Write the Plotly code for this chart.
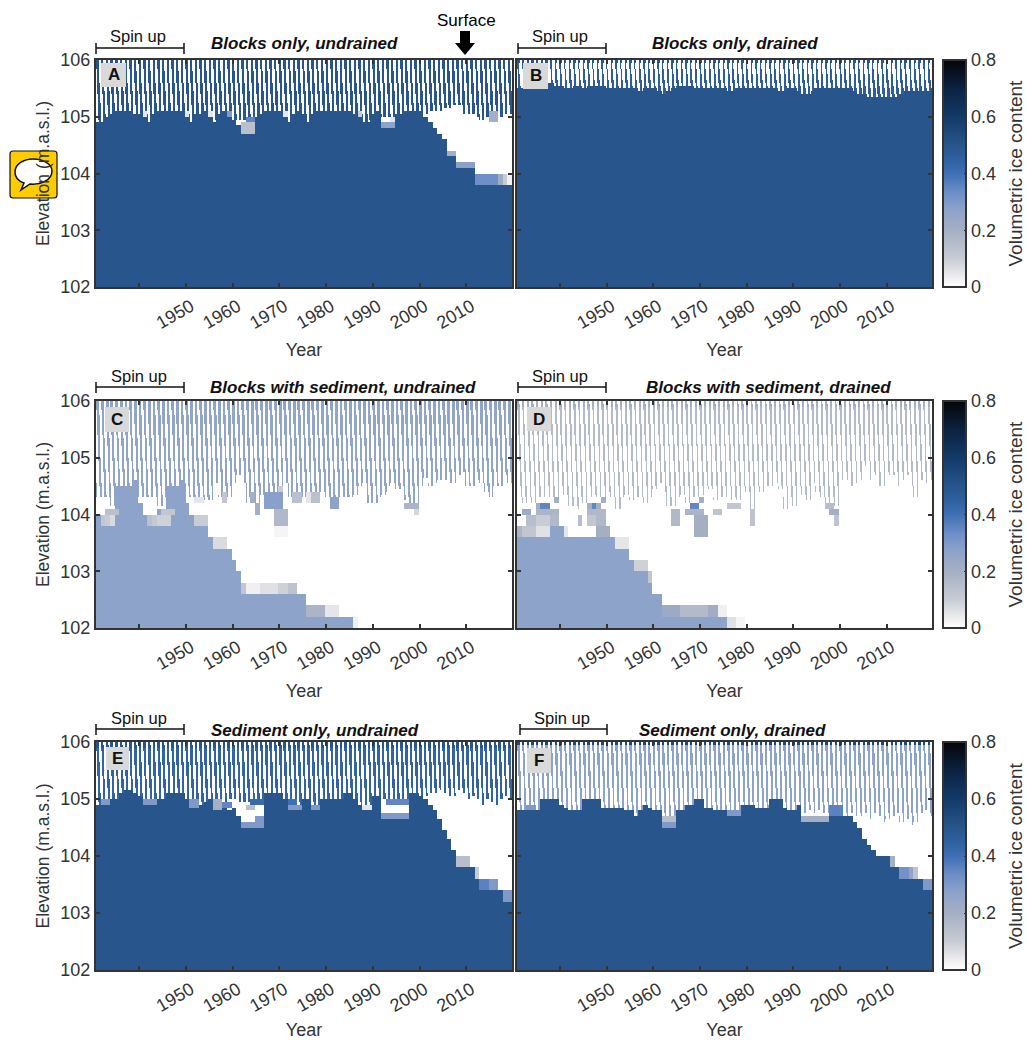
import numpy as np
import plotly.graph_objects as go

W, H = 1026, 1040
YEARS = list(range(1931, 2020))
TICK_YEARS = [1940, 1950, 1960, 1970, 1980, 1990, 2000, 2010]
TICK_TEXT = ["", "1950", "1960", "1970", "1980", "1990", "2000", "2010"]
ELEV_TICKS = [102, 103, 104, 105, 106]
CBAR_TICKS = [0, 0.2, 0.4, 0.6, 0.8]

# top of the perennial ice body per year (m a.s.l.)
ice_top_A = [104.9,104.9,105.0,105.05,105.1,105.1,105.1,105.1,105.05,105.05,
             105.0,104.9,105.05,105.1,105.1,105.1,105.1,105.1,105.1,105.0,
             104.9,105.05,105.05,105.1,105.0,104.9,105.05,105.1,105.0,104.95,
             104.85,104.7,104.7,104.7,105.0,105.05,105.1,105.1,105.1,105.1,
             105.0,104.9,105.05,105.1,105.05,104.9,105.05,105.1,105.1,105.1,
             105.1,105.1,105.1,105.1,105.1,105.05,105.0,104.9,104.9,105.05,
             105.1,104.8,104.8,104.8,105.05,105.05,105.1,105.1,105.1,105.1,
             105.0,104.9,104.8,104.7,104.6,104.3,104.3,104.1,104.1,104.1,
             104.1,103.8,103.8,103.8,103.8,103.8,103.8,103.8,103.8]
ice_top_B = [105.5,105.5,105.6,105.6,105.55,105.6,105.6,105.6,105.55,105.55,
             105.5,105.52,105.55,105.55,105.5,105.55,105.55,105.55,105.55,105.5,
             105.48,105.52,105.5,105.52,105.52,105.5,105.45,105.5,105.52,105.5,
             105.45,105.42,105.45,105.5,105.55,105.55,105.55,105.55,105.5,105.48,
             105.5,105.5,105.5,105.48,105.5,105.45,105.45,105.5,105.5,105.52,
             105.5,105.52,105.52,105.5,105.52,105.48,105.45,105.45,105.5,105.52,
             105.45,105.42,105.42,105.45,105.5,105.5,105.5,105.52,105.52,105.52,
             105.5,105.48,105.45,105.42,105.4,105.37,105.37,105.35,105.35,105.37,
             105.35,105.37,105.4,105.45,105.45,105.45,105.45,105.45,105.45]
ice_top_C = [104.0,103.8,103.8,103.8,104.5,104.5,104.5,104.5,104.6,104.2,
             104.0,103.8,103.8,104.1,104.1,104.5,104.5,104.5,104.6,104.2,
             104.0,103.8,103.8,103.8,103.6,103.4,103.4,103.4,103.4,103.2,
             103.0,102.6,102.6,102.6,102.6,102.6,102.6,102.6,102.6,102.6,
             102.6,102.6,102.6,102.6,102.6,102.2,102.2,102.2,102.2,102.2,
             102.2,102.2,102.2,102.2,102.2,102.0,102.0,102.0,102.0,102.0,
             102.0,102.0,102.0,102.0,102.0,102.0,102.0,102.0,102.0,102.0,
             102.0,102.0,102.0,102.0,102.0,102.0,102.0,102.0,102.0,102.0,
             102.0,102.0,102.0,102.0,102.0,102.0,102.0,102.0,102.0]
ice_top_D = [103.6,103.6,103.6,103.6,103.6,103.6,103.6,103.6,103.6,103.6,
             103.6,103.6,103.6,103.6,103.6,103.6,103.6,103.6,103.6,103.6,
             103.6,103.4,103.4,103.4,103.2,103.0,103.0,103.0,102.8,102.6,
             102.6,102.2,102.2,102.2,102.2,102.2,102.2,102.2,102.2,102.2,
             102.2,102.2,102.2,102.2,102.2,102.2,102.0,102.0,102.0,102.0,
             102.0,102.0,102.0,102.0,102.0,102.0,102.0,102.0,102.0,102.0,
             102.0,102.0,102.0,102.0,102.0,102.0,102.0,102.0,102.0,102.0,
             102.0,102.0,102.0,102.0,102.0,102.0,102.0,102.0,102.0,102.0,
             102.0,102.0,102.0,102.0,102.0,102.0,102.0,102.0,102.0]
ice_top_E = [104.9,104.9,104.9,105.0,105.0,105.1,105.15,105.15,105.1,105.05,
             104.9,104.9,104.9,105.0,105.0,105.1,105.1,105.1,105.1,105.0,
             104.85,104.85,104.9,104.95,105.0,104.8,104.8,104.85,104.8,104.85,
             104.7,104.5,104.5,104.5,104.5,104.5,105.1,105.1,105.1,105.1,
             105.0,104.8,104.8,104.8,105.0,105.0,104.8,104.8,105.0,105.0,
             105.0,105.0,105.0,105.1,105.1,105.0,104.9,104.8,104.8,105.05,
             105.05,104.65,104.65,104.65,104.65,104.65,104.65,105.1,105.1,105.05,
             105.0,104.9,104.8,104.67,104.47,104.3,104.1,103.8,103.8,103.8,
             103.8,103.6,103.4,103.4,103.4,103.4,103.4,103.2,103.2]
ice_top_F = [104.8,104.8,104.8,104.8,104.8,105.0,105.0,105.0,105.0,104.9,
             104.85,104.8,104.8,104.8,105.0,105.0,105.0,105.0,104.85,104.85,
             104.85,104.85,104.85,104.8,104.8,104.7,104.8,104.9,104.85,104.8,
             104.8,104.5,104.5,104.5,104.8,104.8,104.9,104.9,105.0,105.0,
             104.85,104.85,104.8,104.8,104.8,104.7,104.7,104.7,104.9,104.9,
             104.9,104.85,104.85,104.85,105.0,105.0,105.0,104.85,104.8,104.8,
             104.9,104.6,104.6,104.6,104.6,104.6,104.6,104.7,104.7,104.7,
             104.7,104.7,104.6,104.5,104.3,104.2,104.1,104.0,104.0,104.0,
             103.8,103.8,103.6,103.6,103.6,103.6,103.6,103.4,103.4]

# lowest reach of each year's seasonal ice tooth; years not listed reach the ice body
tooth_end_A = {1961:104.95, 1962:104.95, 1963:104.95, 1964:104.95, 1992:105.0, 1993:105.0, 1994:105.0,
               2001:105.05, 2002:105.1, 2003:105.1, 2004:105.1, 2005:105.15, 2006:105.15, 2007:105.2,
               2008:105.2, 2009:105.05, 2010:105.05, 2011:105.05, 2012:105.0, 2013:104.95, 2014:105.0,
               2015:104.9, 2016:104.9, 2017:105.0, 2018:105.05, 2019:105.05}
tooth_end_B = {}
tooth_end_C = dict(zip(YEARS, [
    104.3,104.3,104.3,104.15,100,100,100,100,100,104.3,
    104.3,104.3,104.3,104.15,104.15,100,100,100,100,104.2,
    104.3,104.25,104.25,104.25,104.25,104.55,104.3,104.3,104.3,104.55,
    104.7,104.55,104.2,104.2,104.0,104.35,104.15,104.1,104.1,104.1,
    104.55,104.3,104.2,104.2,104.3,104.3,104.2,104.2,104.4,104.3,
    104.1,104.1,104.3,104.3,104.3,104.35,104.5,104.55,104.2,104.2,
    104.2,104.35,104.4,104.55,104.45,104.45,104.25,104.2,104.1,104.5,
    104.65,104.5,104.55,104.6,104.6,104.55,104.55,104.7,104.75,104.5,
    104.5,104.6,104.55,104.4,104.3,104.5,104.5,104.7,104.55]))
tooth_end_D = dict(zip(YEARS, [
    104.3,104.2,104.2,104.2,104.3,104.3,104.3,104.3,104.3,104.35,
    104.35,104.15,104.15,104.1,104.2,104.3,104.35,104.3,104.3,104.4,
    104.3,104.1,104.1,104.35,104.25,104.3,104.3,104.2,104.15,104.45,
    104.55,104.4,104.15,104.15,104.1,104.35,104.2,104.2,104.3,104.35,
    104.5,104.45,104.25,104.3,104.3,104.3,104.25,104.25,104.45,104.4,
    104.1,104.4,104.4,104.5,104.4,104.55,104.45,104.1,104.1,104.15,
    104.3,104.35,104.25,104.55,104.4,104.3,104.2,104.15,104.15,104.6,
    104.6,104.5,104.55,104.6,104.85,104.6,104.7,104.5,104.5,104.7,
    104.7,104.5,104.6,104.7,104.5,104.3,104.6,104.55,104.6]))
tooth_end_E = {1959:105.0, 1960:105.0, 1961:104.95, 1962:104.95, 1963:104.95, 1964:104.95, 1965:104.95, 1966:104.95,
               1992:105.0, 1993:105.0, 1994:105.0, 1995:105.0, 1996:105.0, 1997:105.0,
               2001:105.05, 2002:105.1, 2003:105.1, 2004:105.15, 2005:105.1, 2006:105.05, 2007:105.05,
               2008:105.15, 2009:105.1, 2010:105.0, 2011:105.05, 2012:105.0, 2013:104.9, 2014:105.0,
               2015:104.95, 2016:104.9, 2017:105.0, 2018:105.05, 2019:105.0}
tooth_end_F = {1962:104.65, 1963:104.65, 1964:104.65, 1992:104.75, 1993:104.8, 1994:104.75, 1995:104.8, 1996:104.75, 1997:104.75,
               2002:104.75, 2003:104.7, 2004:104.7, 2005:104.75, 2006:104.65, 2007:104.75, 2008:104.7, 2009:104.6,
               2010:104.65, 2011:104.7, 2012:104.75, 2013:104.6, 2014:104.65, 2015:104.55, 2016:104.6, 2017:104.75,
               2018:104.8, 2019:104.7}

# partly frozen cells: (first year, last year, low elevation, high elevation, ice content)
patches_A = [(1941,1941,105.0,105.1,0.05), (1950,1950,105.0,105.1,0.05), (1955,1955,105.0,105.1,0.05),
             (1959,1959,105.0,105.1,0.3), (1971,1971,105.0,105.1,0.05), (1987,1987,105.0,105.1,0.1),
             (1962,1964,104.7,104.9,0.14), (1963,1964,104.9,105.0,0.35),
             (1992,1994,104.8,104.9,0.27), (1994,1994,104.9,105.0,0.05),
             (2006,2007,104.3,104.4,0.2), (2008,2011,104.1,104.2,0.28),
             (2012,2016,103.8,104.0,0.33), (2017,2017,103.8,104.0,0.22), (2018,2018,103.8,104.0,0.1),
             (2019,2019,103.8,104.0,0.03), (2015,2016,104.9,105.1,0.2)]
patches_B = []
patches_C = [(1932,1932,103.8,104.0,0.12), (1933,1933,103.8,104.0,0.1), (1934,1934,103.8,104.0,0.07),
             (1933,1935,104.0,104.1,0.14), (1942,1942,103.8,104.0,0.14), (1943,1943,103.8,104.0,0.11),
             (1944,1946,103.8,104.0,0.09), (1945,1947,104.0,104.1,0.12),
             (1952,1954,103.8,104.0,0.1), (1956,1958,103.4,103.6,0.07),
             (1962,1962,102.6,102.8,0.12), (1963,1965,102.6,102.8,0.03), (1966,1969,102.6,102.8,0.06),
             (1970,1971,102.6,102.8,0.09), (1972,1973,102.6,102.8,0.13),
             (1974,1975,102.4,102.6,0.27), (1976,1979,102.2,102.4,0.18), (1980,1982,102.2,102.4,0.05),
             (1986,1986,102.0,102.2,0.03),
             (1935,1936,104.2,104.5,0.27), (1952,1953,104.2,104.3,0.05),
             (1958,1958,104.2,104.4,0.12), (1965,1965,104.0,104.2,0.2), (1964,1964,104.2,104.4,0.2),
             (1967,1970,104.1,104.4,0.28), (1969,1971,103.8,104.1,0.17), (1969,1971,103.6,103.8,0.02),
             (1970,1970,104.4,104.5,0.1), (1973,1974,104.2,104.4,0.14), (1976,1976,104.2,104.4,0.05),
             (1977,1978,104.2,104.4,0.14), (1981,1982,104.1,104.3,0.27),
             (1997,1999,104.1,104.2,0.18), (1999,1999,104.0,104.1,0.08)]
patches_D = [(1931,1931,103.6,103.8,0.18), (1932,1934,103.6,103.8,0.12), (1935,1937,103.6,103.8,0.06),
             (1938,1940,103.6,103.8,0.27), (1941,1941,103.6,103.8,0.05), (1948,1950,103.6,103.8,0.2),
             (1933,1934,103.8,104.0,0.15), (1935,1937,103.8,104.0,0.1), (1938,1939,103.8,104.0,0.17),
             (1944,1944,103.8,104.0,0.15), (1946,1947,103.8,104.0,0.12), (1948,1949,103.8,104.0,0.17),
             (1932,1933,104.0,104.1,0.22), (1935,1939,104.0,104.1,0.18), (1946,1949,104.0,104.1,0.17),
             (1935,1937,104.1,104.2,0.2), (1936,1937,104.1,104.2,0.35), (1946,1948,104.1,104.2,0.2),
             (1947,1947,104.1,104.2,0.35), (1939,1939,104.2,104.3,0.2), (1949,1949,104.2,104.3,0.2),
             (1952,1954,103.4,103.6,0.05), (1956,1958,103.0,103.2,0.09), (1959,1959,102.8,103.0,0.12),
             (1962,1965,102.2,102.4,0.23), (1966,1971,102.2,102.4,0.16), (1972,1973,102.2,102.4,0.21),
             (1974,1975,102.2,102.4,0.03), (1976,1977,102.0,102.2,0.06), (1978,1979,102.0,102.2,0.02),
             (1964,1965,103.8,104.1,0.17), (1967,1970,104.0,104.1,0.18), (1968,1969,104.1,104.2,0.35),
             (1969,1971,103.6,104.0,0.2), (1970,1970,104.2,104.3,0.2), (1973,1974,104.0,104.1,0.13),
             (1976,1978,104.1,104.2,0.12), (1981,1981,103.8,104.1,0.13),
             (1997,1998,104.1,104.2,0.15), (1998,1999,104.0,104.1,0.2), (1999,1999,103.8,104.0,0.13)]
patches_E = [(1932,1933,104.9,105.0,0.3), (1941,1943,104.9,105.0,0.3), (1951,1952,104.85,105.0,0.3),
             (1956,1957,104.8,105.0,0.2), (1958,1959,104.85,104.95,0.35),
             (1962,1966,104.5,104.6,0.3), (1965,1966,104.6,104.7,0.3), (1963,1964,104.8,104.9,0.15),
             (1964,1966,104.9,105.0,0.42), (1972,1974,104.8,104.9,0.3), (1977,1978,104.8,104.9,0.3),
             (1972,1973,104.9,105.0,0.4), (1988,1989,104.8,104.9,0.05),
             (1992,1997,104.65,104.75,0.3), (1993,1997,104.9,105.0,0.35),
             (2008,2010,103.8,104.0,0.15), (2012,2012,103.6,103.8,0.1),
             (2013,2014,103.4,103.6,0.36), (2015,2016,103.4,103.6,0.3), (2018,2019,103.2,103.4,0.3)]
patches_F = [(1933,1934,104.8,104.9,0.3), (1962,1964,104.6,104.7,0.15), (1962,1964,104.5,104.6,0.3),
             (1976,1978,104.7,104.8,0.3), (1992,1997,104.6,104.7,0.2), (1998,2000,104.7,104.9,0.36),
             (2011,2011,103.8,104.0,0.2), (2013,2014,103.6,103.8,0.32), (2015,2015,103.6,103.8,0.26),
             (2016,2016,103.6,103.8,0.13), (2018,2019,103.4,103.6,0.3)]

PANEL_NAMES = ["A", "B", "C", "D", "E", "F"]
PANEL_TITLES = ["Blocks only, undrained", "Blocks only, drained", "Blocks with sediment, undrained",
                "Blocks with sediment, drained", "Sediment only, undrained", "Sediment only, drained"]
SPIN_LABEL = "Spin up"
SURFACE_LABEL = "Surface"
CBAR_LABEL = "Volumetric ice content"
ice_tops = [ice_top_A, ice_top_B, ice_top_C, ice_top_D, ice_top_E, ice_top_F]
tooth_ends = [tooth_end_A, tooth_end_B, tooth_end_C, tooth_end_D, tooth_end_E, tooth_end_F]
patch_sets = [patches_A, patches_B, patches_C, patches_D, patches_E, patches_F]

# ---- styling of the panels ----
STYLE = {
    "A": dict(block=0.5, tooth=0.5, near=0.5, near_depth=0.1, w_top=0.46, w_bot=0.55),
    "B": dict(block=0.5, tooth=0.46, near=0.5, near_depth=0.05, w_top=0.2, w_bot=0.85),
    "C": dict(block=0.27, tooth=0.26, near=0.27, near_depth=0.1, w_top=0.6, w_bot=0.42),
    "D": dict(block=0.27, tooth=0.16, near=0.2, near_depth=0.1, w_top=0.45, w_bot=0.3),
    "E": dict(block=0.5, tooth=0.44, near=0.5, near_depth=0.1, w_top=0.55, w_bot=0.45),
    "F": dict(block=0.5, tooth=0.27, near=0.55, near_depth=0.05, w_top=0.5, w_bot=0.38),
}
STEPS = 10
DZ = 0.05
X0 = 1930.75
x_cells = X0 + (np.arange(len(YEARS) * STEPS) + 0.5) / STEPS
y_cells = 102 + (np.arange(80) + 0.5) * DZ
SLANT = 0.45

COLORSCALE = [[0, "#ffffff"], [0.03/0.8, "#f0f0f1"], [0.1/0.8, "#c8ccd4"], [0.2/0.8, "#a5afc4"],
              [0.27/0.8, "#8ea3c9"], [0.33/0.8, "#6f8fc8"], [0.4/0.8, "#3f6fb5"], [0.45/0.8, "#2f609f"],
              [0.5/0.8, "#27558c"], [0.6/0.8, "#133a68"], [0.7/0.8, "#0c2240"], [1, "#050508"]]


def build(name, tops, ends, patches):
    st = STYLE[name]
    z = np.zeros((y_cells.size, x_cells.size))
    for j, e in enumerate(y_cells):
        depth = 106 - e
        frac = min(depth / 1.0, 1.0)
        width = min(st["w_top"] + (st["w_bot"] - st["w_top"]) * frac, 0.85)
        for i, yr in enumerate(YEARS):
            a = i * STEPS
            if e < tops[i]:
                z[j, a:a + STEPS] = st["block"]
                continue
            end = ends.get(yr)
            if end is not None and e < end:
                continue
            start = 0.08 + SLANT * depth
            val = st["tooth"]
            w = width
            if depth < st["near_depth"]:
                val = st["near"]
                w = max(width, 0.5) if name == "B" else width
            for k in range(STEPS):
                ph = ((k + 0.5) / STEPS - start) % 1.0
                if ph < w:
                    z[j, a + k] = val
    for first, last, lo, hi, v in patches:
        i0 = (first - YEARS[0]) * STEPS
        i1 = (last - YEARS[0] + 1) * STEPS
        mask = (y_cells > lo) & (y_cells < hi)
        z[np.ix_(mask, np.arange(i0, i1))] = v
    return np.round(z, 3)


# ---- page layout in pixels ----
def fx(p): return p / W
def fy(p): return 1 - p / H

COLS = [(96, 512), (517, 932)]
ROWS = [(60, 287), (401, 628), (742, 970)]
CB_X = 943
CB_W = 23
INK = "#333333"
FONT = "Liberation Sans, Arial, sans-serif"

fig = go.Figure()
annotations, shapes = [], []

TITLE_POS = [(304, 44), (735, 44), (343, 387), (768, 387), (315, 730), (732, 730)]
SPIN_POS = [(138, 36), (560, 36), (139, 376), (560, 376), (139, 718), (562, 718)]
BRACKET = [(96, 184, 48), (518, 606, 48), (96, 184, 387), (518, 606, 387), (96, 184, 729), (520, 607, 729)]
BADGE = [(101, 63, 126, 87), (523, 63, 548, 89), (105, 407, 129, 432), (527, 407, 551, 431),
         (106, 747, 129, 770), (527, 748, 551, 773)]

for n, name in enumerate(PANEL_NAMES):
    r, c = n // 2, n % 2
    suffix = "" if n == 0 else str(n + 1)
    xa, ya = "xaxis" + suffix, "yaxis" + suffix
    z = build(name, ice_tops[n], tooth_ends[n], patch_sets[n])
    trace = dict(z=z, x=x_cells, y=y_cells, xaxis="x" + suffix, yaxis="y" + suffix,
                 colorscale=COLORSCALE, zmin=0, zmax=0.8, zsmooth=False, hoverinfo="skip",
                 showscale=bool(c == 1))
    if c == 1:
        trace["colorbar"] = dict(
            x=fx(CB_X), xanchor="left", xref="paper", yref="paper", xpad=0, ypad=0,
            y=(fy(ROWS[r][0]) + fy(ROWS[r][1])) / 2,
            yanchor="middle", len=(ROWS[r][1] - ROWS[r][0]) / H, lenmode="fraction",
            thickness=CB_W, thicknessmode="pixels", outlinecolor=INK, outlinewidth=2,
            tickvals=CBAR_TICKS, ticktext=["0", "0.2", "0.4", "0.6", "0.8"], ticks="inside", ticklen=3, tickcolor=INK,
            tickfont=dict(family=FONT, size=18, color=INK))
        annotations.append(dict(text=CBAR_LABEL, x=fx(1015), y=(fy(ROWS[r][0]) + fy(ROWS[r][1])) / 2, xref="paper",
                                yref="paper", textangle=-90, showarrow=False, xanchor="center", yanchor="middle",
                                font=dict(family=FONT, size=19, color=INK)))
    fig.add_trace(go.Heatmap(**trace))

    fig.update_layout(**{
        xa: dict(domain=[fx(COLS[c][0]), fx(COLS[c][1])], range=[X0, X0 + len(YEARS)], anchor="y" + suffix,
                 tickvals=TICK_YEARS, ticktext=TICK_TEXT, tickangle=-30, ticks="inside", ticklen=4, tickwidth=1.5,
                 tickcolor=INK, showline=True, linecolor=INK, linewidth=2, mirror="allticks", showgrid=False, zeroline=False,
                 ticklabelshift=5,
                 tickfont=dict(family=FONT, size=18, color=INK),
                 title=dict(text="Year", font=dict(family=FONT, size=18, color=INK), standoff=12)),
        ya: dict(domain=[fy(ROWS[r][1]), fy(ROWS[r][0])], range=[102, 106], anchor="x" + suffix,
                 tickvals=ELEV_TICKS, ticks="inside", ticklen=4, tickwidth=1.5, tickcolor=INK,
                 showline=True, linecolor=INK, linewidth=2, mirror="allticks", showgrid=False, zeroline=False,
                 showticklabels=bool(c == 0),
                 tickfont=dict(family=FONT, size=18, color=INK),
                 title=dict(text="Elevation (m.a.s.l.)" if c == 0 else "", standoff=6,
                            font=dict(family=FONT, size=17.5, color=INK))),
    })

    annotations.append(dict(text="<b><i>%s</i></b>" % PANEL_TITLES[n], x=fx(TITLE_POS[n][0]), y=fy(TITLE_POS[n][1]),
                            xref="paper", yref="paper", showarrow=False, xanchor="center", yanchor="middle",
                            font=dict(family=FONT, size=17, color="#111111")))
    annotations.append(dict(text=SPIN_LABEL, x=fx(SPIN_POS[n][0]), y=fy(SPIN_POS[n][1]), xref="paper", yref="paper",
                            showarrow=False, xanchor="center", yanchor="middle",
                            font=dict(family=FONT, size=16.5, color="#111111")))
    x0, x1, yb = BRACKET[n]
    for seg in [(x0, yb, x1, yb), (x0, yb - 5, x0, yb + 6), (x1, yb - 5, x1, yb + 6)]:
        shapes.append(dict(type="line", xref="paper", yref="paper", x0=fx(seg[0]), y0=fy(seg[1]), x1=fx(seg[2]), y1=fy(seg[3]),
                           line=dict(color="#111111", width=1.5), layer="above"))
    bx0, by0, bx1, by1 = BADGE[n]
    shapes.append(dict(type="rect", xref="paper", yref="paper", x0=fx(bx0), y0=fy(by0), x1=fx(bx1), y1=fy(by1),
                       fillcolor="#d9d9d9", line=dict(width=0), layer="above"))
    annotations.append(dict(text="<b>%s</b>" % name, x=fx((bx0 + bx1) / 2), y=fy((by0 + by1) / 2), xref="paper", yref="paper",
                            showarrow=False, xanchor="center", yanchor="middle",
                            font=dict(family=FONT, size=17, color="#111111")))

# "Surface" arrow
annotations.append(dict(text=SURFACE_LABEL, x=fx(466), y=fy(20), xref="paper", yref="paper", showarrow=False,
                        xanchor="center", yanchor="middle", font=dict(family=FONT, size=17, color="#000000")))
def poly(points, close=True):
    s = " ".join(("M" if i == 0 else "L") + " %.5f,%.5f" % (fx(px), fy(py)) for i, (px, py) in enumerate(points))
    return s + (" Z" if close else "")
shapes.append(dict(type="path", xref="paper", yref="paper", layer="above", fillcolor="#000000", line=dict(width=0),
                   path=poly([(460, 31), (470, 31), (470, 43), (475, 43), (465, 55), (455, 43), (460, 43)])))

# speech-bubble badge
def pt(px, py): return "%.5f,%.5f" % (fx(px), fy(py))
rr = "M %s L %s Q %s %s L %s Q %s %s L %s Q %s %s L %s Q %s %s Z" % (
    pt(13, 151), pt(54, 151), pt(57, 151), pt(57, 154), pt(57, 195), pt(57, 198), pt(54, 198),
    pt(13, 198), pt(10, 198), pt(10, 195), pt(10, 154), pt(10, 151), pt(13, 151))
shapes.append(dict(type="path", xref="paper", yref="paper", layer="above", path=rr, fillcolor="#ffcc00",
                   line=dict(color="#111111", width=1.2)))
bub = "M %s C %s %s %s C %s %s %s C %s %s %s L %s L %s C %s %s %s Z" % (
    pt(15, 172), pt(15, 164), pt(24, 159), pt(33, 159),
    pt(43, 159), pt(52, 164), pt(52, 171),
    pt(52, 180), pt(41, 185), pt(30, 184), pt(21, 190), pt(24, 183),
    pt(18, 181), pt(15, 177), pt(15, 172))
shapes.append(dict(type="path", xref="paper", yref="paper", layer="above", path=bub, fillcolor="#ffffff",
                   line=dict(color="#111111", width=1.5)))

fig.update_layout(width=W, height=H, margin=dict(l=0, r=0, t=0, b=0, autoexpand=False), paper_bgcolor="white", plot_bgcolor="white",
                  annotations=annotations, shapes=shapes, showlegend=False, font=dict(family=FONT))

POST = """
document.body.style.margin='0';
var gd=document.querySelector('.js-plotly-plot');
var main=gd.querySelector('svg.main-svg');
var above=main.querySelector('.layer-above');
var t=gd.querySelector('.g-ytitle');
if(t&&above){main.insertBefore(t,above);}
"""
fig.write_html("out.html", post_script=POST, config=dict(displayModeBar=False))
